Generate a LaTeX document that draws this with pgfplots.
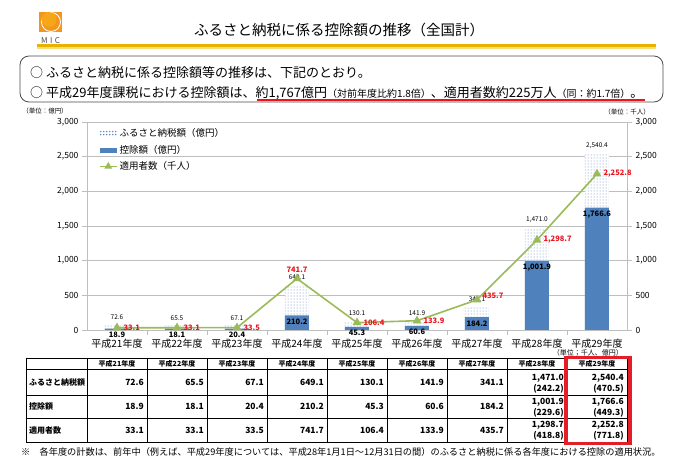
\documentclass[border=0pt]{standalone}
\usepackage{fontspec}
\setmainfont{Noto Sans CJK JP}
\usepackage{pgfplots}
\pgfplotsset{compat=1.18}
\usetikzlibrary{patterns}
\pgfkeys{/pgf/number format/assume math mode=true}
\definecolor{barblue}{RGB}{79,129,189}
\definecolor{dotblue}{RGB}{95,135,195}
\definecolor{linegreen}{RGB}{155,187,89}
\definecolor{labelred}{RGB}{235,20,30}
\definecolor{gold}{RGB}{232,178,0}
\definecolor{lightgold}{RGB}{248,222,120}
\definecolor{boxred}{RGB}{228,30,40}
\definecolor{logoorange}{RGB}{243,150,30}
\definecolor{gridgray}{RGB}{190,190,190}
\newcommand{\fs}[1]{\fontsize{#1}{#1}\selectfont}
\begin{document}
\begin{tikzpicture}[x=1pt,y=1pt]
\useasboundingbox (0,0) rectangle (680,461);
\fill[white] (0,0) rectangle (680,461);
% logo
\fill[logoorange] (39,449) rectangle (62,429);
\draw[white, line width=0.8pt] (51,439) circle (9.5);
\fill[logoorange!85!yellow] (49,441.5) circle (7.5);
\node[font=\fs{8}, text=black!70, inner sep=0] at (50.5,420) {M\hspace{2.5pt}I\hspace{2.5pt}C};
% title
\node[font=\fs{14.5}, inner sep=0] at (339,431) {ふるさと納税に係る控除額の推移（全国計）};
\fill[gold] (37,416.5) rectangle (656,414);
\fill[lightgold] (37,413.5) rectangle (656,412);
% summary box
\draw[black!70, line width=0.8pt, rounded corners=9pt] (20,405) rectangle (663,359);
\node[anchor=west, font=\fs{13}, inner sep=0] at (30,388) {○ ふるさと納税に係る控除額等の推移は、下記のとおり。};
\node[anchor=west, font=\fs{13}, inner sep=0] at (30,368) {○ 平成29年度課税における控除額は、約1,767億円{\fs{10}（対前年度比約1.8倍）}、適用者数約225万人{\fs{10}（同：約1.7倍）}。};
\draw[labelred, line width=1.8pt] (257,361) -- (645,361);
% unit labels
\node[font=\fs{6.5}, inner sep=0] at (45,350) {（単位：億円）};
\node[font=\fs{6.5}, inner sep=0] at (627,349) {（単位：千人）};
% main axis
\begin{axis}[at={(87pt,131pt)}, anchor=south west, scale only axis,
  width=540pt, height=208pt,
  xmin=-0.5, xmax=8.5, ymin=0, ymax=3000,
  axis x line*=bottom, axis y line*=left,
  axis line style={gridgray, line width=0.8pt},
  ytick={0,500,...,3000},
  ymajorgrids, grid style={gridgray, line width=0.8pt},
  tick align=outside, major tick length=5pt,
  ytick style={gridgray, line width=0.8pt},
  yticklabel style={font=\fs{8.5}},
  xtick={0,...,8},
  xtick style={draw=none},
  xticklabels={平成21年度,平成22年度,平成23年度,平成24年度,平成25年度,平成26年度,平成27年度,平成28年度,平成29年度},
  xticklabel style={font=\fs{10}, yshift=-1pt},
  extra x ticks={0.5,1.5,2.5,3.5,4.5,5.5,6.5,7.5},
  extra x tick labels={},
  extra x tick style={grid=none, xtick style={draw=gridgray, line width=0.8pt}},
  /pgf/number format/assume math mode=true,
  legend style={at={(0.02,0.985)}, anchor=north west, draw=none, fill=none,
     font=\fs{9.5}, row sep=3pt, inner sep=1pt},
  legend cell align=left,
  ]
\addlegendimage{legend image code/.code={\foreach \i in {0,...,5} {\fill[dotblue] (\i*3pt+1pt,1.5pt) circle (0.55pt); \fill[dotblue] (\i*3pt+1pt,-1.5pt) circle (0.55pt);}}}
\addlegendentry{ふるさと納税額（億円）}
\addlegendimage{legend image code/.code={\fill[barblue] (0pt,-2pt) rectangle (16pt,2pt);}}
\addlegendentry{控除額（億円）}
\addlegendimage{linegreen, line width=1.5pt, mark=triangle*, mark size=3pt, mark options={fill=linegreen}}
\addlegendentry{適用者数（千人）}
% furusato nozei amount (dotted)
\addplot[ybar, bar width=24pt, bar shift=0pt, draw=none, preaction={fill=white},
  pattern=dots, pattern color=dotblue, forget plot,
  nodes near coords={\pgfmathprintnumber[fixed,fixed zerofill,precision=1,1000 sep={,}]{\pgfplotspointmeta}},
  every node near coord/.append style={font=\fs{6.5}, text=black, yshift=1.5pt}]
  coordinates {(0,72.6) (1,65.5) (2,67.1) (3,649.1) (4,130.1) (5,141.9) (6,341.1) (7,1471.0) (8,2540.4)};
% deduction amount (solid)
\addplot[ybar, bar width=24pt, bar shift=0pt, draw=none, fill=barblue, forget plot,
  nodes near coords={\pgfmathprintnumber[fixed,fixed zerofill,precision=1,1000 sep={,}]{\pgfplotspointmeta}},
  every node near coord/.append style={font=\bfseries\fs{7.5}, text=black, anchor=north, yshift=0pt}]
  coordinates {(0,18.9) (1,18.1) (2,20.4) (3,210.2) (4,45.3) (5,60.6) (6,184.2) (7,1001.9) (8,1766.6)};
\end{axis}
% right axis with the users line
\begin{axis}[at={(87pt,131pt)}, anchor=south west, scale only axis,
  width=540pt, height=208pt,
  xmin=-0.5, xmax=8.5, ymin=0, ymax=3000,
  axis x line=none, axis y line*=right,
  axis line style={gridgray, line width=0.8pt},
  ytick={0,500,...,3000},
  tick align=outside, major tick length=5pt,
  ytick style={gridgray, line width=0.8pt},
  yticklabel style={font=\fs{8.5}},
  /pgf/number format/assume math mode=true,
  ]
\addplot[linegreen, line width=1.6pt, mark=triangle*, mark size=3.5pt, mark options={fill=linegreen, solid}]
  coordinates {(0,33.1) (1,33.1) (2,33.5) (3,741.7) (4,106.4) (5,133.9) (6,435.7) (7,1298.7) (8,2252.8)};
\addplot[draw=none, mark=none, forget plot,
  nodes near coords={\pgfmathprintnumber[fixed,fixed zerofill,precision=1,1000 sep={,}]{\pgfplotspointmeta}},
  every node near coord/.append style={font=\bfseries\fs{7.5}, text=labelred, anchor=west, xshift=3pt}]
  coordinates {(0,33.1) (1,33.1) (2,33.5) (4,106.4) (5,133.9) (7,1298.7) (8,2252.8)};
\addplot[draw=none, mark=none, forget plot,
  nodes near coords={\pgfmathprintnumber[fixed,fixed zerofill,precision=1,1000 sep={,}]{\pgfplotspointmeta}},
  every node near coord/.append style={font=\bfseries\fs{7.5}, text=labelred, anchor=south, yshift=2pt}]
  coordinates {(3,741.7)};
\addplot[draw=none, mark=none, forget plot,
  nodes near coords={\pgfmathprintnumber[fixed,fixed zerofill,precision=1,1000 sep={,}]{\pgfplotspointmeta}},
  every node near coord/.append style={font=\bfseries\fs{7.5}, text=labelred, anchor=south west, xshift=2pt, yshift=-2pt}]
  coordinates {(6,435.7)};
\end{axis}
% table
\node[anchor=east, font=\fs{7}, inner sep=0] at (623,108) {（単位；千人、億円）};
\foreach \yy in {103,92,66,43,19} {\draw[black, line width=0.6pt] (26,\yy) -- (627,\yy);}
\foreach \xx in {26,87,147,207,267,327,387,447,507,567,627} {\draw[black, line width=0.6pt] (\xx,103) -- (\xx,19);}
\foreach \lab [count=\i from 0] in {平成21年度,平成22年度,平成23年度,平成24年度,平成25年度,平成26年度,平成27年度,平成28年度,平成29年度}
  {\node[font=\bfseries\fs{7}, inner sep=0] at (117+60*\i,97.5) {\lab};}
\node[anchor=west, font=\bfseries\fs{8}, inner sep=0] at (29,79) {ふるさと納税額};
\node[anchor=west, font=\bfseries\fs{8}, inner sep=0] at (29,54.5) {控除額};
\node[anchor=west, font=\bfseries\fs{8}, inner sep=0] at (29,31) {適用者数};
\foreach \v [count=\i from 0] in {72.6,65.5,67.1,649.1,130.1,141.9,341.1}
  {\node[anchor=east, font=\bfseries\fs{8.5}, inner sep=0] at (144+60*\i,79) {\v};}
\foreach \v [count=\i from 0] in {18.9,18.1,20.4,210.2,45.3,60.6,184.2}
  {\node[anchor=east, font=\bfseries\fs{8.5}, inner sep=0] at (144+60*\i,54.5) {\v};}
\foreach \v [count=\i from 0] in {33.1,33.1,33.5,741.7,106.4,133.9,435.7}
  {\node[anchor=east, font=\bfseries\fs{8.5}, inner sep=0] at (144+60*\i,31) {\v};}
\begin{scope}[every node/.style={anchor=east, font=\bfseries\fs{8.5}, inner sep=0}]
\node at (564,83) {1,471.0}; \node at (564,72) {(242.2)};
\node at (624,83) {2,540.4}; \node at (624,72) {(470.5)};
\node at (564,59) {1,001.9}; \node at (564,48) {(229.6)};
\node at (624,59) {1,766.6}; \node at (624,48) {(449.3)};
\node at (564,36) {1,298.7}; \node at (564,25) {(418.8)};
\node at (624,36) {2,252.8}; \node at (624,25) {(771.8)};
\end{scope}
\draw[boxred, line width=3.5pt] (566,103.5) rectangle (630,17.5);
% footnote
\node[anchor=west, font=\fs{9.2}, inner sep=0] at (21,9) {※　各年度の計数は、前年中（例えば、平成29年度については、平成28年1月1日～12月31日の間）のふるさと納税に係る各年度における控除の適用状況。};
\end{tikzpicture}
\end{document}
